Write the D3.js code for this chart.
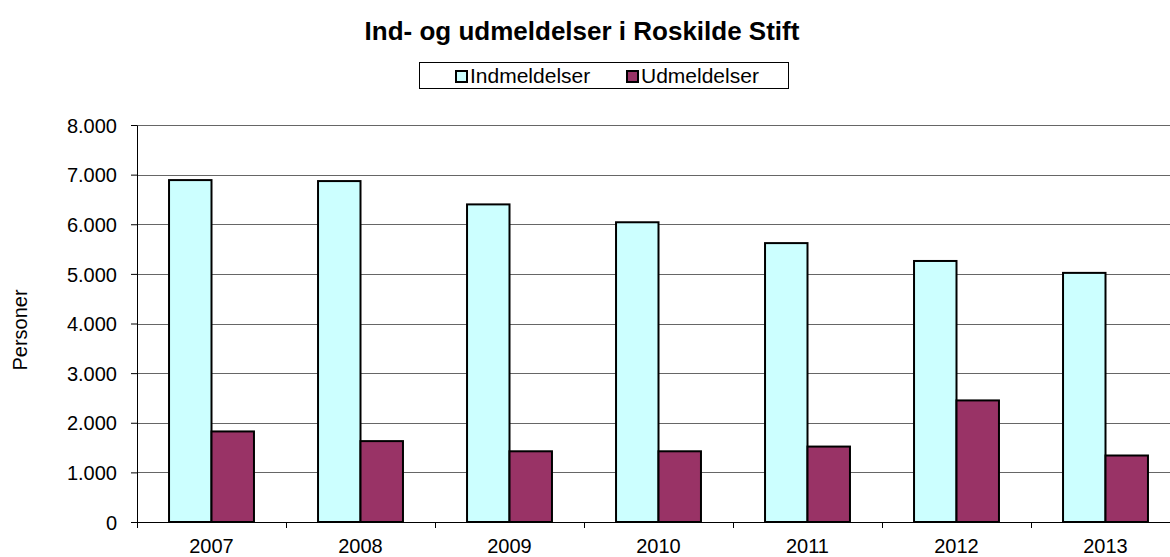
<!DOCTYPE html>
<html>
<head>
<meta charset="utf-8">
<script src="https://cdn.jsdelivr.net/npm/d3@7"></script>
<style>
  body { margin: 0; background: #fff; }
  svg { display: block; font-family: Arial, "Liberation Sans", sans-serif; }
</style>
</head>
<body>
<div id="chart"></div>
<script>
// data
const years = ["2007", "2008", "2009", "2010", "2011", "2012", "2013"];
const indmeldelser = [6890, 6870, 6400, 6040, 5620, 5260, 5020];
const udmeldelser = [1825, 1630, 1425, 1425, 1520, 2450, 1340];
const yTicks = [0, 1000, 2000, 3000, 4000, 5000, 6000, 7000, 8000];
const seriesNames = ["Indmeldelser", "Udmeldelser"];
const seriesColors = ["#ccffff", "#993366"];

const width = 1170, height = 557;
const margin = { top: 125, right: -10, bottom: 35, left: 137 };
const innerW = width - margin.left - margin.right;
const innerH = height - margin.top - margin.bottom;

const svg = d3.select("#chart").append("svg")
  .attr("width", width)
  .attr("height", height);

const da = d3.formatLocale({ decimal: ",", thousands: ".", grouping: [3], currency: ["", " kr"] });
const fmt = da.format(",");

const x = d3.scaleBand().domain(years).range([0, innerW]);
const xSeries = d3.scaleBand().domain(seriesNames)
  .range([x.bandwidth() * 0.215, x.bandwidth() * 0.785]);
const y = d3.scaleLinear().domain([0, 8000]).range([innerH, 0]);

const g = svg.append("g").attr("transform", `translate(${margin.left},${margin.top})`);

// Title
svg.append("text")
  .attr("x", 582).attr("y", 40)
  .attr("text-anchor", "middle")
  .style("font-size", "26px").style("font-weight", "bold")
  .text("Ind- og udmeldelser i Roskilde Stift");

// Legend
const legend = svg.append("g").attr("transform", "translate(419,62)");
legend.append("rect")
  .attr("x", 0.5).attr("y", 0.5)
  .attr("width", 369).attr("height", 26)
  .attr("fill", "#fff").attr("stroke", "#000");
const legendX = [37, 208];
seriesNames.forEach((name, i) => {
  const lg = legend.append("g").attr("transform", `translate(${legendX[i]},0)`);
  lg.append("rect")
    .attr("x", 0).attr("y", 9).attr("width", 11).attr("height", 11)
    .attr("fill", seriesColors[i]).attr("stroke", "#000").attr("stroke-width", 2);
  lg.append("text")
    .attr("x", 14).attr("y", 20.5)
    .style("font-size", "21px")
    .text(name);
});

// Gridlines
g.append("g")
  .selectAll("line")
  .data(yTicks.slice(1))
  .join("line")
  .attr("x1", 0).attr("x2", innerW)
  .attr("y1", d => Math.round(y(d)) + 0.5).attr("y2", d => Math.round(y(d)) + 0.5)
  .attr("stroke", "#666");

// Bars
const rows = years.map((yr, i) => ({ year: yr, values: [indmeldelser[i], udmeldelser[i]] }));
g.append("g")
  .selectAll("g")
  .data(rows)
  .join("g")
  .attr("transform", d => `translate(${x(d.year)},0)`)
  .selectAll("rect")
  .data(d => d.values.map((v, i) => ({ name: seriesNames[i], value: v, color: seriesColors[i] })))
  .join("rect")
  .attr("x", d => xSeries(d.name))
  .attr("width", xSeries.bandwidth())
  .attr("y", d => y(d.value))
  .attr("height", d => y(0) - y(d.value))
  .attr("fill", d => d.color)
  .attr("stroke", "#000")
  .attr("stroke-width", 2);

// Y axis
const yAxis = g.append("g")
  .call(d3.axisLeft(y).tickValues(yTicks).tickFormat(fmt).tickSize(6).tickSizeOuter(0));
yAxis.select(".domain").attr("stroke", "#000");
yAxis.selectAll("text").style("font-size", "20px").attr("fill", "#000").attr("x", -20).attr("dy", "0.36em");
yAxis.selectAll("line").attr("stroke", "#000");

// X axis: ticks at category boundaries
const xAxis = g.append("g").attr("transform", `translate(0,${innerH})`);
xAxis.append("line")
  .attr("x1", -6).attr("x2", innerW)
  .attr("y1", 0.5).attr("y2", 0.5)
  .attr("stroke", "#000");
xAxis.selectAll(".tick")
  .data(years)
  .join("line")
  .attr("x1", d => Math.round(x(d)) + 0.5).attr("x2", d => Math.round(x(d)) + 0.5)
  .attr("y1", 0).attr("y2", 6)
  .attr("stroke", "#000");
xAxis.selectAll("text")
  .data(years)
  .join("text")
  .attr("x", d => x(d) + x.bandwidth() / 2)
  .attr("y", 31)
  .attr("text-anchor", "middle")
  .style("font-size", "20px")
  .text(d => d);

// Y label
svg.append("text")
  .attr("transform", "translate(27,330) rotate(-90)")
  .attr("text-anchor", "middle")
  .style("font-size", "20px")
  .text("Personer");
</script>
</body>
</html>
